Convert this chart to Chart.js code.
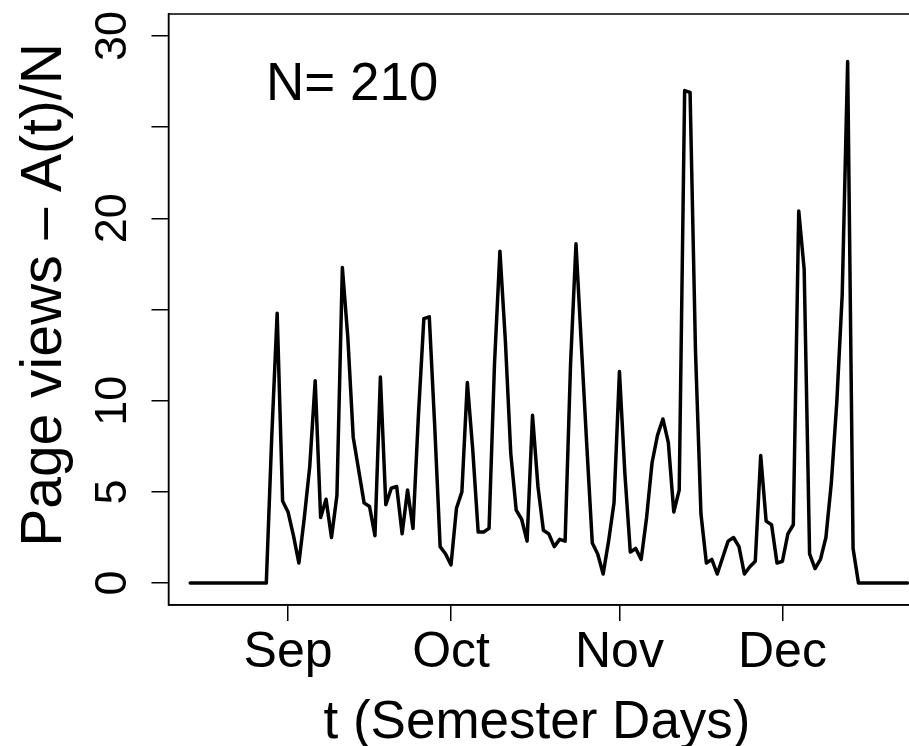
<!DOCTYPE html>
<html><head><meta charset="utf-8">
<script src="https://cdn.jsdelivr.net/npm/chart.js@4/dist/chart.umd.min.js"></script>
<style>
html,body{margin:0;padding:0;background:#fff;overflow:hidden;}
#wrap{position:relative;width:940px;height:746px;}
</style></head><body>
<div id="wrap"><canvas id="c" width="940" height="746"></canvas></div>
<script>
// ---- data (day 0 = 1 Sep) ----
const firstDay = -18;
const pageViews = [
  0,0,0,0,0,0,0,0,0,0,0,0,0,0,0,
  8.0,14.8,4.5,3.9,2.6,1.1,3.6,6.4,11.1,3.6,
  4.6,2.5,4.8,17.3,13.5,8.0,6.2,4.4,4.2,2.6,
  11.3,4.3,5.2,5.3,2.7,5.1,3.0,9.2,14.5,14.6,
  8.6,2.0,1.6,1.0,4.1,5.0,11.0,7.3,2.8,2.8,
  3.0,12.0,18.2,13.3,7.1,4.0,3.5,2.3,9.2,5.3,
  2.9,2.7,2.0,2.4,2.3,12.0,18.6,13.0,7.5,2.2,
  1.6,0.5,2.3,4.4,11.6,6.0,1.7,1.9,1.3,3.6,
  6.6,8.1,9.0,7.7,3.9,5.1,27.0,26.9,12.7,3.8,
  1.1,1.3,0.5,1.4,2.3,2.5,2.0,0.5,0.9,1.2,
  7.0,3.4,3.2,1.1,1.2,2.7,3.2,20.4,17.2,1.6,
  0.8,1.3,2.5,5.5,9.9,15.8,28.6,1.9,
  0,0,0,0,0,0,0,0,0,0
];
const monthTickDays = [0, 30, 61, 91];
const monthLabels = ['Sep', 'Oct', 'Nov', 'Dec'];
const yTickValues = [0, 5, 10, 15, 20, 25, 30];
const yTickLabels = ['0', '5', '10', '', '20', '', '30'];
const xTitle = 't (Semester Days)';
const yTitle = 'Page views \u2013 A(t)/N';
const noteText = 'N= 210';
const notePos = [11.8, 26.5];

const FONT = 'Liberation Sans, Arial, Helvetica, sans-serif';
const points = pageViews.map((v, i) => ({x: firstDay + i, y: v}));

const boxPlugin = {
  id: 'box',
  afterDraw(chart) {
    const {ctx, chartArea: a, scales} = chart;
    ctx.save();
    ctx.strokeStyle = '#000';
    ctx.lineWidth = 1.5;
    ctx.strokeRect(a.left, a.top, a.right - a.left, a.bottom - a.top);
    ctx.fillStyle = '#000';
    // annotation
    ctx.font = '53px ' + FONT;
    ctx.textAlign = 'center';
    ctx.textBaseline = 'alphabetic';
    ctx.fillText(noteText, scales.x.getPixelForValue(notePos[0]), scales.y.getPixelForValue(notePos[1]));
    // x title
    ctx.font = '53px ' + FONT;
    ctx.fillText(xTitle, 537, 738);
    // y title
    ctx.save();
    ctx.font = '57px ' + FONT;
    ctx.translate(61, 295);
    ctx.rotate(-Math.PI / 2);
    ctx.fillText(yTitle, 0, 0);
    ctx.restore();
    ctx.restore();
  }
};

new Chart(document.getElementById('c'), {
  type: 'line',
  data: { datasets: [{ data: points, borderColor: '#000', borderWidth: 3.5, pointRadius: 0,
    tension: 0, fill: false, borderJoinStyle: 'round', borderCapStyle: 'round' }] },
  options: {
    responsive: false, animation: false, devicePixelRatio: 1,
    layout: { padding: { top: 14, left: 0, right: 0, bottom: 0 } },
    plugins: { legend: { display: false }, tooltip: { enabled: false } },
    scales: {
      x: {
        type: 'linear', min: -22, max: 120,
        afterBuildTicks: s => { s.ticks = monthTickDays.map(v => ({value: v})); },
        afterFit: s => { s.height = 141; s.paddingLeft = 0; s.paddingRight = 0; },
        ticks: { callback: v => monthLabels[monthTickDays.indexOf(v)], color: '#000',
          font: { family: FONT, size: 50, lineHeight: 1 }, padding: 7, maxRotation: 0, autoSkip: false },
        grid: { drawOnChartArea: false, drawTicks: true, tickLength: 16, color: '#000', lineWidth: 1.5 },
        border: { display: true, color: '#000', width: 1.5 },
        title: { display: false }
      },
      y: {
        type: 'linear', min: -1.2, max: 31.2,
        afterBuildTicks: s => { s.ticks = yTickValues.map(v => ({value: v})); },
        afterFit: s => { s.width = 168.5; s.paddingTop = 0; s.paddingBottom = 0; },
        ticks: { callback: v => yTickLabels[yTickValues.indexOf(v)], color: '#000',
          font: { family: FONT, size: 45, lineHeight: 1 }, padding: 12.5, minRotation: 90, maxRotation: 90,
          crossAlign: 'center', autoSkip: false },
        grid: { drawOnChartArea: false, drawTicks: true, tickLength: 17, color: '#000', lineWidth: 1.5 },
        border: { display: true, color: '#000', width: 1.5 },
        title: { display: false }
      }
    }
  },
  plugins: [boxPlugin]
});
</script>
</body></html>
